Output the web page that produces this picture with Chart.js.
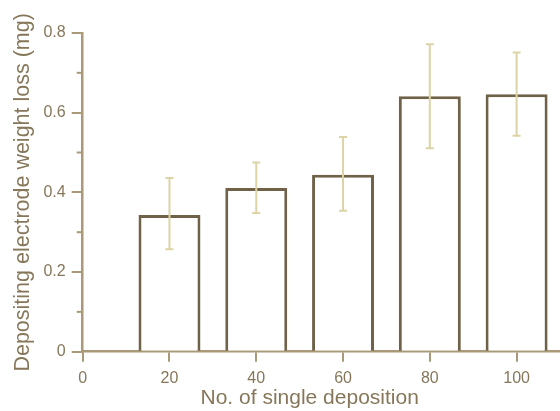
<!DOCTYPE html>
<html>
<head>
<meta charset="utf-8">
<script src="https://cdn.jsdelivr.net/npm/chart.js@4"></script>
<style>
  html, body { margin: 0; padding: 0; background: #ffffff; }
  #wrap { width: 560px; height: 411px; position: relative; }
</style>
</head>
<body>
<div id="wrap"><canvas id="c"></canvas></div>
<script>
// Number of single depositions and mean electrode weight loss (mg)
const depositions = [20, 40, 60, 80, 100];
const weightLoss  = [0.343, 0.411, 0.444, 0.641, 0.646];
// Lower and upper ends of the error bars (mg)
const errLow  = [0.257, 0.348, 0.354, 0.511, 0.542];
const errHigh = [0.436, 0.475, 0.539, 0.772, 0.751];
// Axis ticks
const xTicks = [0, 20, 40, 60, 80, 100];
const yTicks = [0, 0.2, 0.4, 0.6, 0.8];
const yMinorTicks = [0.1, 0.3, 0.5, 0.7];

const AXIS = '#a89a78';
const TEXT = '#86775a';
const BAR = '#6f6248';
const ERR = '#dcd4a6';
const FONT = '"Liberation Sans", Arial, sans-serif';

// Error bars plus the short minor ticks on the y axis
const extras = {
  id: 'extras',
  afterDatasetsDraw(chart) {
    const ctx = chart.ctx;
    const xs = chart.scales.x, ys = chart.scales.y;
    ctx.save();
    ctx.strokeStyle = ERR;
    ctx.lineWidth = 2;
    depositions.forEach((d, i) => {
      const px = xs.getPixelForValue(d);
      const pLo = ys.getPixelForValue(errLow[i]);
      const pHi = ys.getPixelForValue(errHigh[i]);
      ctx.beginPath();
      ctx.moveTo(px, pLo); ctx.lineTo(px, pHi);
      ctx.moveTo(px - 4, pLo); ctx.lineTo(px + 4, pLo);
      ctx.moveTo(px - 4, pHi); ctx.lineTo(px + 4, pHi);
      ctx.stroke();
    });
    ctx.strokeStyle = AXIS;
    ctx.lineWidth = 2;
    const left = chart.chartArea.left;
    yMinorTicks.forEach(v => {
      const py = ys.getPixelForValue(v);
      ctx.beginPath();
      ctx.moveTo(left - 6, py); ctx.lineTo(left, py);
      ctx.stroke();
    });
    ctx.restore();
  }
};

new Chart(document.getElementById('c'), {
  type: 'bar',
  data: {
    datasets: [{
      data: depositions.map((x, i) => ({ x: x, y: weightLoss[i] })),
      backgroundColor: '#ffffff',
      borderColor: BAR,
      borderWidth: 3,
      borderSkipped: 'start',
      barPercentage: 0.714,
      categoryPercentage: 1
    }]
  },
  options: {
    responsive: true,
    maintainAspectRatio: false,
    animation: false,
    layout: { padding: { top: 33, left: 0, right: 0, bottom: 0 } },
    plugins: { legend: { display: false }, tooltip: { enabled: false } },
    scales: {
      x: {
        type: 'linear',
        offset: false,
        min: 0,
        max: 110,
        afterBuildTicks: s => { s.ticks = xTicks.map(v => ({ value: v })); },
        afterFit: s => { s.height = 59.3; },
        border: { color: AXIS, width: 2.5 },
        grid: { offset: false, drawOnChartArea: false, color: AXIS, lineWidth: 2, tickLength: 10 },
        ticks: { color: TEXT, font: { family: FONT, size: 16 }, padding: 7, maxRotation: 0 },
        title: {
          display: true,
          text: 'No. of single deposition    ',
          color: TEXT,
          font: { family: FONT, size: 21 },
          padding: { top: 0, bottom: 0 }
        }
      },
      y: {
        min: 0,
        max: 0.8,
        afterBuildTicks: s => { s.ticks = yTicks.map(v => ({ value: v })); },
        afterFit: s => { s.width = 82.7; },
        border: { color: AXIS, width: 2.5 },
        grid: { drawOnChartArea: false, color: AXIS, lineWidth: 2, tickLength: 11 },
        ticks: {
          color: TEXT,
          font: { family: FONT, size: 16 },
          padding: 6,
          callback: v => (v === 0 ? '0' : v.toFixed(1))
        },
        title: {
          display: true,
          text: 'Depositing electrode weight loss (mg)',
          color: TEXT,
          font: { family: FONT, size: 21.5 },
          padding: { top: 10, bottom: 0 }
        }
      }
    }
  },
  plugins: [extras]
});
</script>
</body>
</html>
